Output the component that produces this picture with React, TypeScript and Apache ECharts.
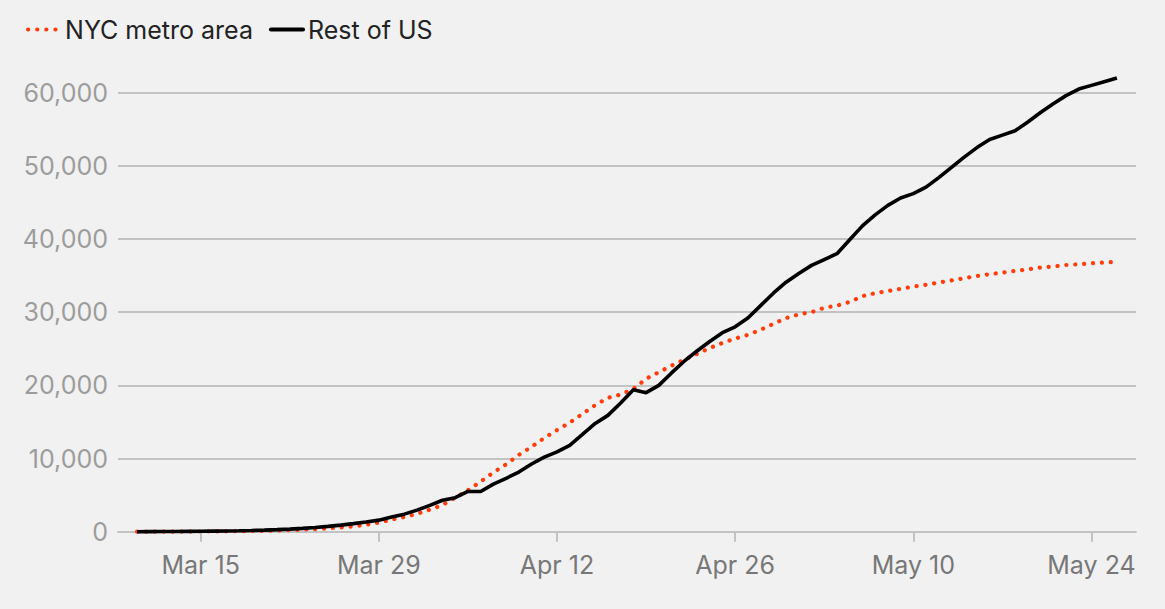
import React, { useEffect, useRef } from "react";
import * as echarts from "echarts";

const MONTHS = ["Jan", "Feb", "Mar", "Apr", "May", "Jun"];

// Daily categories, Mar 9 – May 27 (2020); data runs Mar 10 – May 26
const categories: string[] = (() => {
  const out: string[] = [];
  for (let i = 0; i < 80; i++) {
    const dt = new Date(Date.UTC(2020, 2, 9 + i));
    out.push(`${MONTHS[dt.getUTCMonth()]} ${dt.getUTCDate()}`);
  }
  return out;
})();

const tickLabels = ["Mar 15", "Mar 29", "Apr 12", "Apr 26", "May 10", "May 24"];

const yTicks = [0, 10000, 20000, 30000, 40000, 50000, 60000];

// NYC metro area, Mar 10 – May 26
const nycMetro = [
  0, 0, 5, 10, 15, 25, 35, 50, 70, 90, 120, 160, 210, 280, 360, 460, 580, 740, 950, 1250, 1650, 2000,
  2450, 3000, 3650, 4650, 5650, 6850, 8100, 9200, 10500, 11600, 12800, 13900, 14900, 16100, 17300,
  18300, 18750, 19500, 20900, 21800, 22700, 23500, 24300, 25100, 25800, 26400, 26900, 27600, 28400,
  29200,
  29700, 30000, 30600, 30900, 31400, 32200, 32600, 32900, 33200, 33500, 33750, 34050, 34350, 34650,
  34950, 35200, 35400, 35650, 35850, 36100, 36250, 36450, 36550, 36700, 36800, 36900,
];

// Rest of US, Mar 10 – May 26
const restOfUS = [
  0, 10, 20, 30, 45, 60, 80, 100, 130, 170, 220, 280, 350, 450, 580, 730, 900, 1100, 1330, 1580, 2000,
  2400,
  2950, 3600, 4300, 4650, 5500, 5500, 6500, 7300, 8150, 9250, 10200, 10900, 11800, 13300, 14800,
  15900, 17600, 19400, 19000, 20000, 21700, 23300, 24700, 26000, 27200, 28000, 29200, 30900, 32600,
  34100,
  35300, 36400, 37200, 38000, 39900, 41800, 43300, 44600, 45600, 46200, 47100, 48400, 49800, 51200,
  52500, 53600, 54200, 54800, 56000, 57300, 58500, 59600, 60500, 61000, 61500, 62000,
];

const FONT = "Inter, 'Noto Sans', sans-serif";
const RED = "#ff3c0a";

export default function App() {
  const ref = useRef<HTMLDivElement>(null);

  useEffect(() => {
    document.body.style.margin = "0";
    const chart = echarts.init(ref.current!, undefined, { renderer: "svg" });
    const pad = (arr: number[]) => [null, ...arr, null];
    const isTick = (_i: number, v: string) => tickLabels.includes(v);

    chart.setOption({
      animation: false,
      backgroundColor: "#f1f1f1",
      textStyle: { fontFamily: FONT },
      legend: {
        left: 21,
        top: 12,
        itemWidth: 32,
        itemHeight: 14,
        itemGap: 16,
        itemStyle: { opacity: 0 },
        textStyle: { fontSize: 25, color: "#222", fontFamily: FONT },
        data: [
          {
            name: "NYC metro area",
            lineStyle: { color: RED, width: 4.2, type: [0.1, 9], cap: "round" },
          },
          {
            name: "Rest of US",
            lineStyle: { color: "#000", width: 4.2, type: "solid", cap: "round" },
          },
        ],
      },
      grid: { left: 118, right: 29, top: 92.7, bottom: 77.3, containLabel: false },
      xAxis: {
        type: "category",
        data: categories,
        boundaryGap: true,
        axisLine: { show: true, lineStyle: { color: "#c2c2c2", width: 2 } },
        axisTick: {
          show: true,
          alignWithLabel: true,
          interval: isTick,
          length: 10,
          lineStyle: { color: "#c2c2c2", width: 2 },
        },
        axisLabel: {
          interval: isTick,
          color: "#777",
          fontSize: 25,
          fontFamily: FONT,
          margin: 21,
        },
        splitLine: { show: false },
      },
      yAxis: {
        type: "value",
        min: yTicks[0],
        max: yTicks[yTicks.length - 1],
        interval: 10000,
        axisLine: { show: false },
        axisTick: { show: false },
        axisLabel: {
          color: "#9c9c9c",
          fontSize: 25,
          fontFamily: FONT,
          margin: 10,
          formatter: (v: number) => v.toLocaleString("en-US"),
        },
        splitLine: { lineStyle: { color: "#c2c2c2", width: 2 } },
      },
      series: [
        {
          name: "NYC metro area",
          type: "line",
          data: pad(nycMetro),
          symbol: "none",
          clip: false,
          lineStyle: { color: RED, width: 4.2, type: [0.1, 8.8], cap: "round" },
          itemStyle: { color: RED },
        },
        {
          name: "Rest of US",
          type: "line",
          data: pad(restOfUS),
          symbol: "none",
          clip: false,
          lineStyle: { color: "#000", width: 3.6 },
          itemStyle: { color: "#000" },
        },
      ],
    });
    return () => chart.dispose();
  }, []);

  return <div ref={ref} style={{ width: 1165, height: 609 }} />;
}
